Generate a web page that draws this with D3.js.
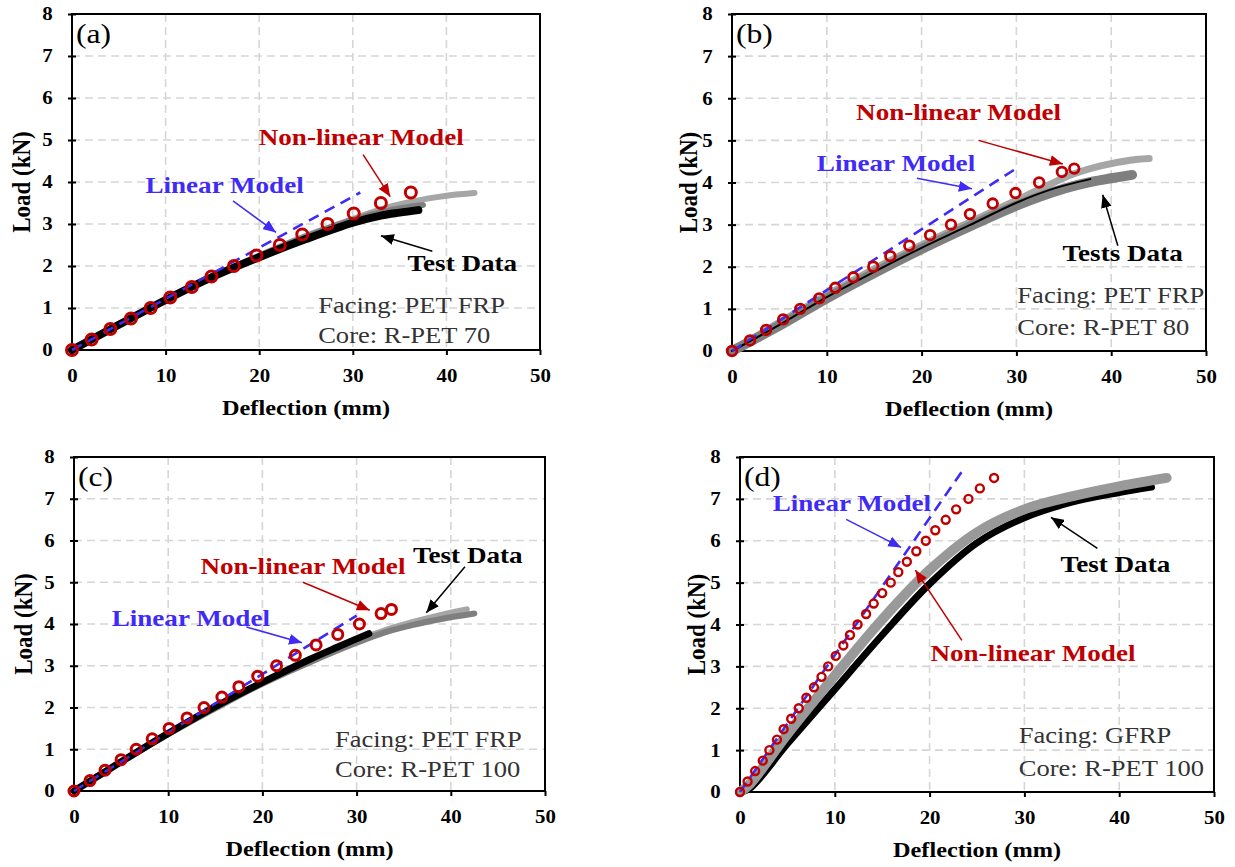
<!DOCTYPE html>
<html>
<head>
<meta charset="utf-8">
<script src="https://cdn.jsdelivr.net/npm/d3@7"></script>
<style>
  body { margin: 0; background: #fff; }
  svg { display: block; }
  text { font-family: "Liberation Serif", "Times New Roman", Times, serif; }
</style>
</head>
<body>
<svg id="fig" width="1235" height="867"></svg>
<script>
// ---------- axis ticks ----------
const deflTicks = [0, 10, 20, 30, 40, 50];
const loadTicks = [0, 1, 2, 3, 4, 5, 6, 7, 8];

// ---------- (a) Facing PET FRP, core R-PET 70 ----------
const aNonlinDefl = [0, 2.1, 4.1, 6.3, 8.4, 10.5, 12.8, 14.9, 17.3, 19.7, 22.2, 24.6, 27.3, 30.1, 33.0, 36.2];
const aNonlinLoad = [0, 0.25, 0.5, 0.75, 1.0, 1.25, 1.5, 1.75, 2.0, 2.25, 2.5, 2.75, 3.0, 3.25, 3.5, 3.75];
const aLinearDefl = [0, 30.8];
const aLinearLoad = [0, 3.75];
const aTest1Defl = [0, 5, 10, 15, 20, 25, 30, 33, 36, 39, 41, 43];
const aTest1Load = [0, 0.6, 1.2, 1.75, 2.25, 2.72, 3.12, 3.35, 3.52, 3.64, 3.7, 3.74];
const aTest2Defl = [0, 5, 10, 15, 20, 25, 30, 34, 37.5];
const aTest2Load = [0, 0.6, 1.2, 1.75, 2.24, 2.7, 3.1, 3.33, 3.45];
const aTest3Defl = [0, 5, 10, 15, 20, 25, 30, 33, 35, 37];
const aTest3Load = [0, 0.6, 1.19, 1.74, 2.21, 2.64, 3.03, 3.2, 3.27, 3.33];

// ---------- (b) Facing PET FRP, core R-PET 80 ----------
const bNonlinDefl = [0, 1.9, 3.6, 5.4, 7.2, 9.2, 10.9, 12.8, 14.9, 16.7, 18.7, 20.9, 23.1, 25.1, 27.5, 29.9, 32.4, 34.8, 36.1];
const bNonlinLoad = [0, 0.25, 0.5, 0.75, 1.0, 1.25, 1.5, 1.75, 2.0, 2.25, 2.5, 2.75, 3.0, 3.25, 3.5, 3.75, 4.0, 4.25, 4.33];
const bLinearDefl = [0, 30.1];
const bLinearLoad = [0, 4.35];
const bTest1Defl = [0, 5, 10, 15, 20, 25, 30, 33, 36, 39, 42, 44];
const bTest1Load = [0, 0.68, 1.33, 1.95, 2.52, 3.05, 3.58, 3.9, 4.2, 4.4, 4.53, 4.57];
const bTest2Defl = [0, 5, 10, 15, 20, 25, 30, 35, 38, 40, 42.2];
const bTest2Load = [0, 0.6, 1.25, 1.85, 2.42, 2.95, 3.45, 3.85, 4.02, 4.1, 4.18];
const bTest3Defl = [0, 5, 10, 15, 20, 25, 30, 34, 37.8];
const bTest3Load = [0, 0.62, 1.28, 1.88, 2.45, 2.98, 3.52, 3.86, 4.08];

// ---------- (c) Facing PET FRP, core R-PET 100 ----------
const cNonlinDefl = [0, 1.7, 3.3, 5.0, 6.6, 8.3, 10.1, 12.0, 13.8, 15.7, 17.5, 19.5, 21.5, 23.5, 25.7, 28.0, 30.3, 32.6, 33.7];
const cNonlinLoad = [0, 0.25, 0.5, 0.75, 1.0, 1.25, 1.5, 1.75, 2.0, 2.25, 2.5, 2.75, 3.0, 3.25, 3.5, 3.75, 4.0, 4.25, 4.35];
const cLinearDefl = [0, 30.0];
const cLinearLoad = [0, 4.2];
const cTest1Defl = [0, 5, 10, 15, 20, 25, 30, 33, 36, 39, 41.7];
const cTest1Load = [0, 0.7, 1.37, 2.0, 2.6, 3.12, 3.6, 3.85, 4.05, 4.22, 4.35];
const cTest2Defl = [0, 5, 10, 15, 20, 25, 30, 33, 36, 39, 42.5];
const cTest2Load = [0, 0.7, 1.36, 1.98, 2.57, 3.08, 3.55, 3.8, 3.98, 4.12, 4.25];
const cTest3Defl = [0, 5, 10, 15, 20, 25, 28, 31.3];
const cTest3Load = [0, 0.7, 1.38, 2.02, 2.6, 3.15, 3.45, 3.77];

// ---------- (d) Facing GFRP, core R-PET 100 ----------
const dNonlinDefl = [0, 0.8, 1.6, 2.4, 3.1, 3.9, 4.6, 5.4, 6.2, 7.0, 7.8, 8.6, 9.3, 10.1, 10.9, 11.6,
                     12.4, 13.3, 14.1, 15.0, 15.9, 16.7, 17.6, 18.6, 19.6, 20.6, 21.7, 22.8, 24.1, 25.3, 26.8];
const dNonlinLoad = [0, 0.25, 0.5, 0.75, 1.0, 1.25, 1.5, 1.75, 2.0, 2.25, 2.5, 2.75, 3.0, 3.25, 3.5, 3.75,
                     4.0, 4.25, 4.5, 4.75, 5.0, 5.25, 5.5, 5.75, 6.0, 6.25, 6.5, 6.75, 7.0, 7.25, 7.5];
const dLinearDefl = [0, 23.7];
const dLinearLoad = [0, 7.75];
const dTest1Defl = [0, 1, 5, 10, 15, 20, 25, 30, 35, 40, 43.4];
const dTest1Load = [0, 0.08, 1.15, 2.45, 3.75, 4.97, 5.95, 6.55, 6.92, 7.15, 7.28];
const dTest2Defl = [0, 1, 5, 10, 15, 20, 25, 30, 35, 40, 45];
const dTest2Load = [0, 0.18, 1.38, 2.78, 4.12, 5.3, 6.2, 6.75, 7.06, 7.3, 7.5];

// ---------- labels ----------
const panelTags = ["(a)", "(b)", "(c)", "(d)"];
const facingText = ["Facing: PET FRP", "Facing: PET FRP", "Facing: PET FRP", "Facing: GFRP"];
const coreText = ["Core: R-PET 70", "Core: R-PET 80", "Core: R-PET 100", "Core: R-PET 100"];
const testLabels = ["Test Data", "Tests Data", "Test Data", "Test Data"];

const zip = (xs, ys) => xs.map((v, i) => [v, ys[i]]);

// ---------- styling ----------
const SX = 1.13;                       // horizontal stretch of the typeface
const RED = "#C00000", BLUE = "#3F2BF5";
const LIGHT = "#A6A6A6", MID = "#7F7F7F", DARK = "#000";

const panels = [
  {
    frame: { left: 72, right: 540, top: 14, bottom: 350 }, titleOff: 42, marker: { r: 5.5, w: 3 },
    nonlin: zip(aNonlinDefl, aNonlinLoad), linear: zip(aLinearDefl, aLinearLoad),
    tests: [
      { pts: zip(aTest1Defl, aTest1Load), color: LIGHT, w: 6 },
      { pts: zip(aTest2Defl, aTest2Load), color: MID, w: 6 },
      { pts: zip(aTest3Defl, aTest3Load), color: DARK, w: 8 }
    ],
    notes: {
      nonlin: { at: [30.9, 4.89], from: [31.1, 4.65], to: [34.0, 3.65] },
      linear: { at: [16.3, 3.73], from: [17.2, 3.55], to: [21.8, 2.80] },
      test: { at: [41.7, 1.87], from: [38.5, 2.35], to: [33.0, 2.72] },
      facing: [26.3, 0.89], core: [26.3, 0.17]
    }
  },
  {
    frame: { left: 732, right: 1206, top: 14, bottom: 351 }, titleOff: 35, marker: { r: 4.8, w: 2.8 },
    nonlin: zip(bNonlinDefl, bNonlinLoad), linear: zip(bLinearDefl, bLinearLoad),
    tests: [
      { pts: zip(bTest1Defl, bTest1Load), color: LIGHT, w: 7 },
      { pts: zip(bTest2Defl, bTest2Load), color: MID, w: 10 },
      { pts: zip(bTest3Defl, bTest3Load), color: DARK, w: 2 }
    ],
    notes: {
      nonlin: { at: [23.9, 5.49], from: [26.0, 5.0], to: [34.9, 4.44] },
      linear: { at: [17.3, 4.27], from: [19.5, 4.10], to: [25.3, 3.85] },
      test: { at: [41.2, 2.13], from: [40.7, 2.50], to: [39.1, 3.71] },
      facing: [30.1, 1.15], core: [30.1, 0.39]
    }
  },
  {
    frame: { left: 74, right: 545, top: 457, bottom: 791 }, titleOff: 42, marker: { r: 5, w: 3 },
    nonlin: zip(cNonlinDefl, cNonlinLoad), linear: zip(cLinearDefl, cLinearLoad),
    tests: [
      { pts: zip(cTest1Defl, cTest1Load), color: LIGHT, w: 6 },
      { pts: zip(cTest2Defl, cTest2Load), color: MID, w: 6 },
      { pts: zip(cTest3Defl, cTest3Load), color: DARK, w: 7 }
    ],
    notes: {
      nonlin: { at: [24.3, 5.19], from: [24.3, 5.0], to: [31.4, 4.33] },
      linear: { at: [12.4, 3.95], from: [18.3, 3.93], to: [24.2, 3.55] },
      test: { at: [41.8, 5.46], from: [41.5, 5.37], to: [37.4, 4.27] },
      facing: [27.7, 1.06], core: [27.7, 0.34]
    }
  },
  {
    frame: { left: 740, right: 1214, top: 457, bottom: 792 }, titleOff: 35, marker: { r: 4, w: 2.4 },
    nonlin: zip(dNonlinDefl, dNonlinLoad), linear: zip(dLinearDefl, dLinearLoad),
    tests: [
      { pts: zip(dTest1Defl, dTest1Load), color: DARK, w: 7 },
      { pts: zip(dTest2Defl, dTest2Load), color: "#999999", w: 10 }
    ],
    notes: {
      nonlin: { at: [30.9, 3.14], from: [23.4, 3.62], to: [18.5, 5.30] },
      linear: { at: [11.8, 6.70], from: [11.2, 6.51], to: [17.0, 5.84] },
      test: { at: [39.6, 5.26], from: [37.7, 5.82], to: [32.8, 6.56] },
      facing: [29.4, 1.18], core: [29.4, 0.38]
    }
  }
];

const svg = d3.select("#fig");
svg.append("rect").attr("width", 1235).attr("height", 867).attr("fill", "#fff");

// arrow heads, one per colour
const defs = svg.append("defs");
[["red", RED], ["blue", BLUE], ["black", "#000"]].forEach(([id, c]) => {
  defs.append("marker").attr("id", "head-" + id)
    .attr("markerUnits", "userSpaceOnUse")
    .attr("viewBox", "0 0 12 10").attr("refX", 12).attr("refY", 5)
    .attr("markerWidth", 13).attr("markerHeight", 11).attr("orient", "auto")
    .append("path").attr("d", "M0,0 L12,5 L0,10 Z").attr("fill", c);
});

function label(g, x, y, str, size, weight, color, anchor) {
  return g.append("text")
    .attr("transform", `translate(${x},${y}) scale(${SX},1)`)
    .attr("text-anchor", anchor || "start")
    .attr("font-size", size).attr("font-weight", weight).attr("fill", color)
    .text(str);
}

function drawPanel(p, i) {
  const f = p.frame;
  const g = svg.append("g");
  const x = d3.scaleLinear().domain([0, 50]).range([f.left, f.right]);
  const y = d3.scaleLinear().domain([0, 8]).range([f.bottom, f.top]);

  // dashed grid
  const grid = g.append("g").attr("stroke", "#D6D6D6").attr("stroke-width", 1.6).attr("stroke-dasharray", "8,5");
  grid.selectAll("line.v").data(deflTicks.slice(1, -1)).join("line")
    .attr("x1", d => x(d)).attr("x2", d => x(d)).attr("y1", f.top).attr("y2", f.bottom);
  grid.selectAll("line.h").data(loadTicks.slice(1, -1)).join("line")
    .attr("x1", f.left).attr("x2", f.right).attr("y1", d => y(d)).attr("y2", d => y(d));

  // axes
  const xa = g.append("g").attr("transform", `translate(0,${f.bottom})`)
    .call(d3.axisBottom(x).tickValues(deflTicks).tickSize(5).tickSizeOuter(0).tickPadding(14).tickFormat(d3.format("d")));
  xa.select(".domain").remove();
  xa.selectAll("line").attr("stroke", "#000").attr("stroke-width", 2);
  xa.selectAll("text").attr("font-size", 18.5).attr("font-weight", "bold").attr("fill", "#000")
    .attr("font-family", "Liberation Serif").attr("transform", `scale(${SX},1)`);

  const ya = g.append("g").attr("transform", `translate(${f.left},0)`)
    .call(d3.axisLeft(y).tickValues(loadTicks).tickSize(4).tickSizeOuter(0).tickPadding(13).tickFormat(d3.format("d")));
  ya.select(".domain").remove();
  ya.selectAll("line").attr("stroke", "#000").attr("stroke-width", 2).attr("x1", 4);
  ya.selectAll("text").attr("font-size", 18.5).attr("font-weight", "bold").attr("fill", "#000")
    .attr("font-family", "Liberation Serif").attr("transform", `scale(${SX},1)`);

  // plot frame
  g.append("rect").attr("x", f.left).attr("y", f.top)
    .attr("width", f.right - f.left).attr("height", f.bottom - f.top)
    .attr("fill", "none").attr("stroke", "#000").attr("stroke-width", 2);

  // axis titles
  label(g, (f.left + f.right) / 2, f.bottom + 65, "Deflection (mm)", 21.5, "bold", "#000", "middle");
  g.append("text")
    .attr("transform", `translate(${f.left - p.titleOff},${(f.top + f.bottom) / 2}) scale(${SX},1) rotate(-90)`)
    .attr("text-anchor", "middle").attr("font-size", 23).attr("font-weight", "bold").text("Load (kN)");

  // test curves
  const curve = d3.line().x(d => x(d[0])).y(d => y(d[1])).curve(d3.curveCatmullRom.alpha(0.5));
  p.tests.forEach(t => {
    g.append("path").attr("d", curve(t.pts)).attr("fill", "none")
      .attr("stroke", t.color).attr("stroke-width", t.w).attr("stroke-linecap", "round").attr("stroke-linejoin", "round");
  });

  // linear model
  const straight = d3.line().x(d => x(d[0])).y(d => y(d[1]));
  g.append("path").attr("d", straight(p.linear)).attr("fill", "none")
    .attr("stroke", BLUE).attr("stroke-width", 2.6).attr("stroke-dasharray", "11,7");

  // non-linear model
  g.append("g").selectAll("circle").data(p.nonlin).join("circle")
    .attr("cx", d => x(d[0])).attr("cy", d => y(d[1])).attr("r", p.marker.r)
    .attr("fill", "none").attr("stroke", RED).attr("stroke-width", p.marker.w);

  // annotations
  const n = p.notes;
  const arrow = (a, id, c) => g.append("line")
    .attr("x1", x(a.from[0])).attr("y1", y(a.from[1])).attr("x2", x(a.to[0])).attr("y2", y(a.to[1]))
    .attr("stroke", c).attr("stroke-width", 1.5).attr("marker-end", `url(#head-${id})`);
  label(g, x(n.nonlin.at[0]), y(n.nonlin.at[1]), "Non-linear Model", 24, "bold", RED, "middle");
  arrow(n.nonlin, "red", RED);
  label(g, x(n.linear.at[0]), y(n.linear.at[1]), "Linear Model", 24, "bold", BLUE, "middle");
  arrow(n.linear, "blue", BLUE);
  label(g, x(n.test.at[0]), y(n.test.at[1]), testLabels[i], 24, "bold", "#000", "middle");
  arrow(n.test, "black", "#000");
  label(g, x(n.facing[0]), y(n.facing[1]), facingText[i], 23.5, "normal", "#333");
  label(g, x(n.core[0]), y(n.core[1]), coreText[i], 23.5, "normal", "#333");

  label(g, f.left + 4, f.top + 29, panelTags[i], 28, "normal", "#000");
}

panels.forEach(drawPanel);
</script>
</body>
</html>
